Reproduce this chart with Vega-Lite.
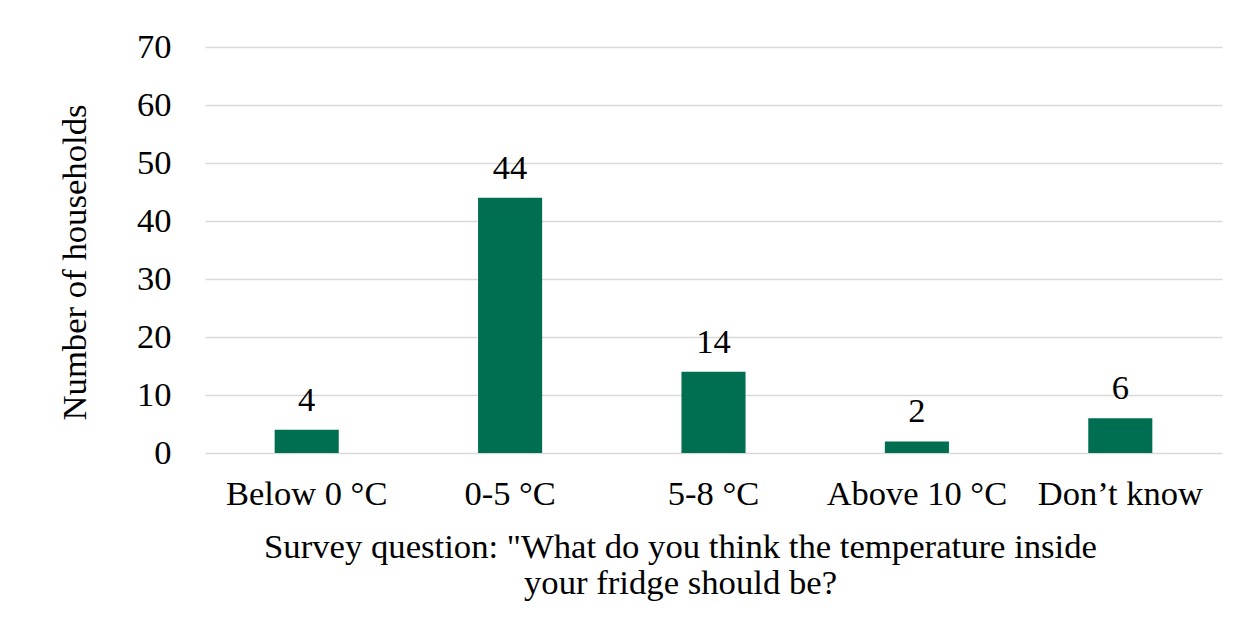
{
  "$schema": "https://vega.github.io/schema/vega-lite/v6.json",
  "width": 1017,
  "height": 406,
  "autosize": {"type": "none"},
  "padding": {"left": 205, "top": 47, "right": 20, "bottom": 178},
  "background": "white",
  "config": {
    "view": {"stroke": null},
    "font": "'Liberation Serif', 'Times New Roman', serif"
  },
  "data": {
    "values": [
      {"category": "Below 0 °C", "households": 4},
      {"category": "0-5 °C", "households": 44},
      {"category": "5-8 °C", "households": 14},
      {"category": "Above 10 °C", "households": 2},
      {"category": "Don’t know", "households": 6}
    ]
  },
  "encoding": {
    "x": {
      "field": "category",
      "type": "nominal",
      "sort": null,
      "scale": {"paddingInner": 0.685, "paddingOuter": 0.3425},
      "axis": {
        "title": ["Survey question: \"What do you think the temperature inside", "your fridge should be?"],
        "titleFont": "'Liberation Serif', 'Times New Roman', serif",
        "titleFontSize": 34.7,
        "titleFontWeight": "normal",
        "titleColor": "black",
        "titleLineHeight": 36,
        "titleBaseline": "top",
        "titleAlign": "center",
        "titleX": 475,
        "titleY": 77,
        "titleLimit": 1200,
        "labelFont": "'Liberation Serif', 'Times New Roman', serif",
        "labelFontSize": 34.5,
        "labelColor": "black",
        "labelAngle": 0,
        "labelPadding": 24,
        "labelBaseline": "top",
        "labelLimit": 400,
        "labelOverlap": false,
        "ticks": false,
        "domain": false,
        "grid": false
      }
    },
    "y": {
      "field": "households",
      "type": "quantitative",
      "scale": {"domain": [0, 70]},
      "axis": {
        "values": [0, 10, 20, 30, 40, 50, 60, 70],
        "title": "Number of households",
        "titleFont": "'Liberation Serif', 'Times New Roman', serif",
        "titleFontSize": 34.7,
        "titleFontWeight": "normal",
        "titleColor": "black",
        "titleAngle": -90,
        "titleBaseline": "middle",
        "titleAlign": "center",
        "titleX": -130,
        "titleY": 215,
        "titleLimit": 600,
        "labelFont": "'Liberation Serif', 'Times New Roman', serif",
        "labelFontSize": 34.5,
        "labelColor": "black",
        "labelPadding": 34,
        "ticks": false,
        "domain": false,
        "grid": true,
        "gridColor": "#d9d9d9",
        "gridWidth": 1.5
      }
    }
  },
  "layer": [
    {"mark": {"type": "bar", "color": "#006f51"}},
    {
      "mark": {"type": "text", "baseline": "bottom", "dy": -12, "font": "'Liberation Serif', 'Times New Roman', serif", "fontSize": 34.5, "color": "black"},
      "encoding": {"text": {"field": "households", "type": "quantitative"}}
    }
  ]
}
